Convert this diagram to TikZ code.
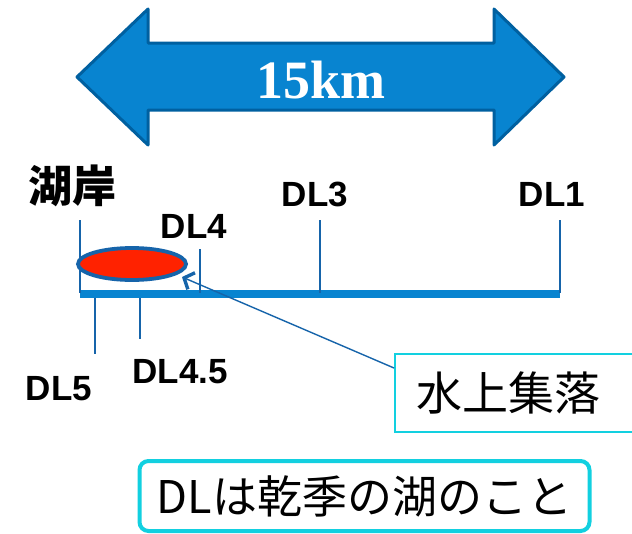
\documentclass[tikz,border=0pt]{standalone}
\usepackage{fontspec}
\setmainfont{Liberation Sans}
\newfontfamily\jpfont{Noto Sans CJK JP}
\newfontfamily\serifbf{Liberation Serif}
\usetikzlibrary{arrows.meta,shapes.geometric}
\definecolor{arrfill}{RGB}{8,132,208}
\definecolor{arrline}{RGB}{0,96,160}
\definecolor{tickc}{RGB}{22,100,170}
\definecolor{lakered}{RGB}{255,34,0}
\definecolor{cyanb}{RGB}{18,208,224}
\tikzset{
  tickline/.style={draw=tickc, line width=1.6pt},
  dllabel/.style={font=\fontsize{35}{37}\selectfont\bfseries, inner sep=0pt, text=black},
  barline/.style={draw=arrfill, line width=8pt},
  ptrline/.style={draw=tickc, line width=1.4pt, -{Straight Barb[line width=3.4pt, length=8pt, width=18pt]}},
}
\begin{document}
\begin{tikzpicture}[x=1pt,y=-1pt]
\useasboundingbox (0,0) rectangle (632,533);
\fill[white] (0,0) rectangle (632,533);
% big double arrow
\path[fill=arrfill, draw=arrline, line width=3pt, line join=round]
  (77,77) -- (148,9) -- (148,43) -- (494,43) -- (494,9) -- (564,77)
  -- (494,145) -- (494,110) -- (148,110) -- (148,145) -- cycle;
\node[text=white, font=\serifbf\bfseries\fontsize{54}{56}\selectfont, inner sep=0pt] (km) at (321,80) {15km};
% baseline
\coordinate (bl) at (80,294);
\coordinate (br) at (560,294);
\draw[barline] (bl) -- (br);
% ticks above
\coordinate (t0a) at (80,220); \coordinate (t0b) at (80,293);
\coordinate (t4a) at (200,249); \coordinate (t4b) at (200,293);
\coordinate (t3a) at (320,220); \coordinate (t3b) at (320,293);
\coordinate (t1a) at (560,220); \coordinate (t1b) at (560,293);
\draw[tickline] (t0a) -- (t0b);
\draw[tickline] (t4a) -- (t4b);
\draw[tickline] (t3a) -- (t3b);
\draw[tickline] (t1a) -- (t1b);
% ticks below
\coordinate (t5a) at (95,298); \coordinate (t5b) at (95,354);
\coordinate (t45a) at (140,298); \coordinate (t45b) at (140,339);
\draw[tickline] (t5a) -- (t5b);
\draw[tickline] (t45a) -- (t45b);
% labels
\node[font=\jpfont\bfseries\fontsize{44}{46}\selectfont, inner sep=0pt] (shore) at (72,186) {湖岸};
\node[dllabel] (dl3) at (315,194) {DL3};
\node[dllabel] (dl1) at (552,194) {DL1};
\node[dllabel] (dl4) at (194,226) {DL4};
\node[dllabel] (dl45) at (180,372) {DL4.5};
\node[dllabel] (dl5) at (59,389) {DL5};
% lake
\node[ellipse, draw=tickc, fill=lakered, line width=3.8pt, minimum width=108pt, minimum height=32pt, inner sep=0pt] (lake) at (132,264) {};
% callout box
\node[draw=cyanb, line width=1.5pt, anchor=west, minimum height=78pt, text width=210pt, inner xsep=22pt, align=left,
      font=\jpfont\fontsize{46}{48}\selectfont] (vil) at (394,393) {水上集落};
\coordinate (ptrs) at (394,368);
\coordinate (ptre) at (182,277);
\draw[ptrline] (ptrs) -- (ptre);
% note box
\node[draw=cyanb, line width=4pt, rounded corners=9pt, minimum width=450pt, minimum height=70pt, inner sep=0pt,
      font=\jpfont\fontsize{45}{47}\selectfont] (note) at (364.5,496) {DLは乾季の湖のこと};
\end{tikzpicture}
\end{document}
